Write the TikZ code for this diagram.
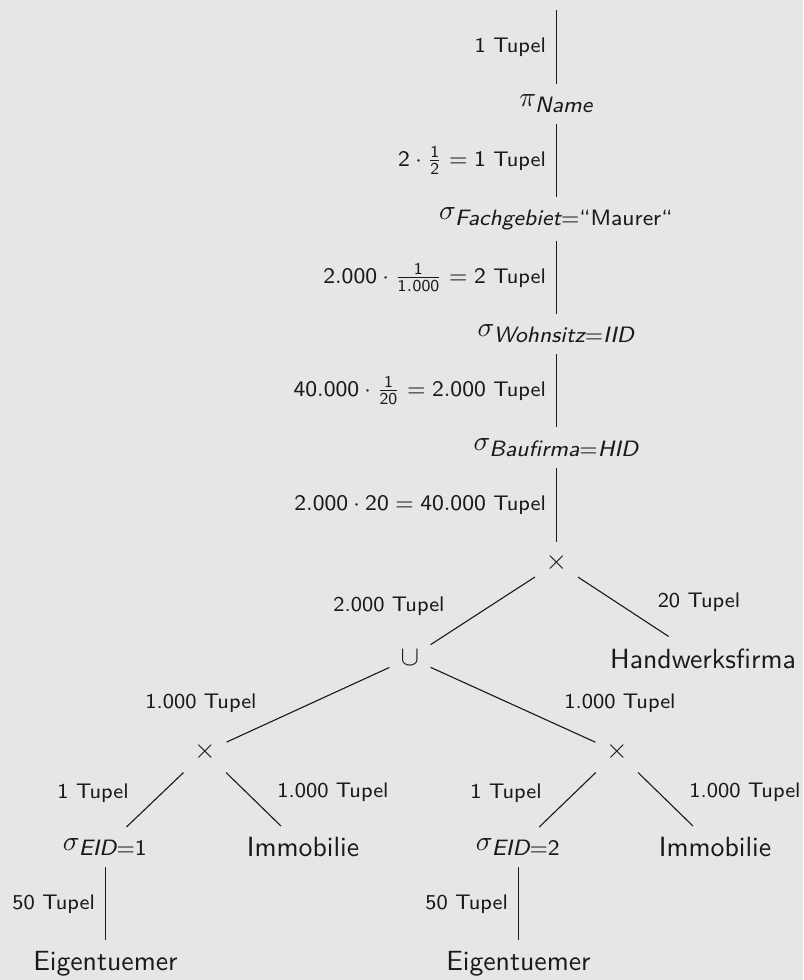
\documentclass[tikz,border=0pt]{standalone}
\usepackage{amsmath}
\SetSymbolFont{operators}{normal}{OT1}{cmss}{m}{n}
\DeclareMathSizes{10}{10}{8}{6}
\DeclareMathSizes{7.6}{7.6}{6}{5}
\newdimen\pxu \pxu=0.36pt
\definecolor{bg}{RGB}{230,230,230}
\definecolor{ink}{RGB}{26,26,26}
\tikzset{
  tn/.style={font=\sffamily, inner sep=0pt, text=ink},
  lab/.style={font=\sffamily\fontsize{7.6}{9}\selectfont, inner sep=0pt, text=ink},
  vlab/.style={lab, midway, left=10\pxu},
  treeedge/.style={draw=ink, line width=0.4pt},
  opx/.style={tn, minimum width=42\pxu, minimum height=40\pxu}
}
\newcommand{\sit}[1]{\text{\itshape #1}}
\begin{document}
\begin{tikzpicture}[x=0.36pt,y=-0.36pt]
\fill[bg] (0,0) rectangle (803,980);
\useasboundingbox (0,0) rectangle (803,980);

% nodes
\coordinate (top) at (556.5,10);
\node[tn, minimum height=38\pxu] (pi) at (556.5,104) {$\pi_{\sit{Name}}$};
\node[tn, minimum height=42\pxu] (sf) at (556.5,219) {$\sigma_{\sit{Fachgebiet}=\text{``Maurer``}}$};
\node[tn, minimum height=38\pxu] (sw) at (556.5,334) {$\sigma_{\sit{Wohnsitz}=\sit{IID}}$};
\node[tn, minimum height=39\pxu] (sb) at (556.5,447.5) {$\sigma_{\sit{Baufirma}=\sit{HID}}$};
\node[opx] (x0) at (556.5,563) {$\times$};
\node[tn, minimum width=40\pxu, minimum height=30\pxu] (u) at (410,658) {$\cup$};
\node[tn, minimum height=44\pxu] (hw) at (703,659) {Handwerksfirma};
\node[opx] (x1) at (205,752) {$\times$};
\node[opx] (x2) at (617,752) {$\times$};
\node[tn, minimum height=39\pxu] (s1) at (105.5,847) {$\sigma_{\sit{EID}=1}$};
\node[tn, minimum height=42\pxu] (im1) at (303,847.5) {Immobilie};
\node[tn, minimum height=39\pxu] (s2) at (518.5,847) {$\sigma_{\sit{EID}=2}$};
\node[tn, minimum height=42\pxu] (im2) at (715,847.5) {Immobilie};
\node[tn, minimum height=46\pxu] (e1) at (105.5,964) {Eigentuemer};
\node[tn, minimum height=46\pxu] (e2) at (518.5,964) {Eigentuemer};

% vertical edges with labels
\draw[treeedge] (top) -- node[vlab] (l1) {1 Tupel} (pi);
\draw[treeedge] (pi) -- node[vlab] (l2) {$2\cdot\frac{1}{2}=1$ Tupel} (sf);
\draw[treeedge] (sf) -- node[vlab] (l3) {$2.000\cdot\frac{1}{1.000}=2$ Tupel} (sw);
\draw[treeedge] (sw) -- node[vlab] (l4) {$40.000\cdot\frac{1}{20}=2.000$ Tupel} (sb);
\draw[treeedge] (sb) -- node[vlab] (l5) {$2.000\cdot 20=40.000$ Tupel} (x0);
\draw[treeedge] (s1) -- node[vlab] (l6) {50 Tupel} (e1);
\draw[treeedge] (s2) -- node[vlab] (l7) {50 Tupel} (e2);

% diagonal edges
\draw[treeedge] (x0) -- (u);
\draw[treeedge] (x0) -- (hw);
\draw[treeedge] (u) -- (x1);
\draw[treeedge] (u) -- (x2);
\draw[treeedge] (x1) -- (s1);
\draw[treeedge] (x1) -- (im1);
\draw[treeedge] (x2) -- (s2);
\draw[treeedge] (x2) -- (im2);

% diagonal edge labels
\node[lab] (d1) at (389,606) {2.000 Tupel};
\node[lab] (d2) at (699,602) {20 Tupel};
\node[lab] (d3) at (201,703) {1.000 Tupel};
\node[lab] (d4) at (620,703) {1.000 Tupel};
\node[lab] (d5) at (93,793) {1 Tupel};
\node[lab] (d6) at (333,792) {1.000 Tupel};
\node[lab] (d7) at (506,793) {1 Tupel};
\node[lab] (d8) at (745,792) {1.000 Tupel};
\end{tikzpicture}
\end{document}
